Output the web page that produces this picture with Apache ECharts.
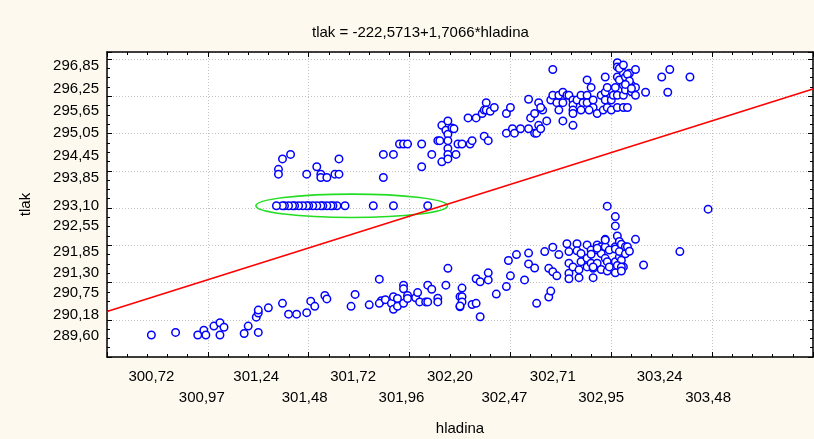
<!DOCTYPE html>
<html>
<head>
<meta charset="utf-8">
<script src="https://cdn.jsdelivr.net/npm/echarts@6/dist/echarts.min.js"></script>
<style>
  html, body { margin: 0; padding: 0; background: #fdf9ee; }
  #chart { width: 814px; height: 439px; }
</style>
</head>
<body>
<div id="chart"></div>
<script>
// Regression: tlak = intercept + slope * hladina
const intercept = -222.5713;
const slope = 1.7066;

// Tick labels shown on the axes
const yTickLabels = [289.60, 290.18, 290.75, 291.30, 291.85, 292.55, 293.10, 293.85, 294.45, 295.05, 295.65, 296.25, 296.85];
const xTickLabels = [300.72, 300.97, 301.24, 301.48, 301.72, 301.96, 302.20, 302.47, 302.71, 302.95, 303.24, 303.48];

// Measurements [hladina, tlak] - upper band
const upperGroup = [
  [301.37,294.36],[301.41,294.48],[301.35,294.08],[301.35,293.95],[301.49,293.95],[301.54,294.15],
  [301.56,293.95],[301.56,293.86],[301.59,293.86],[301.63,293.95],[301.65,293.95],[301.65,294.36],
  [301.87,294.48],[301.92,294.48],[301.87,293.86],[301.95,294.76],[301.97,294.76],[301.99,294.76],
  [302.06,294.76],[302.11,294.48],[302.06,294.15],[302.14,294.85],[302.16,294.28],
  [302.16,295.26],[302.19,295.38],[302.18,295.13],[302.19,295.02],[302.19,294.85],[302.19,294.64],
  [302.19,294.48],[302.19,294.36],[302.21,295.19],[302.22,295.17],[302.23,294.48],[302.24,294.76],[302.15,294.85],
  [302.26,294.76],[302.29,295.46],[302.30,294.76],[302.31,294.85],[302.33,295.46],[302.36,295.58],
  [302.37,295.67],[302.38,295.87],[302.38,295.67],[302.40,295.64],[302.42,295.74],[302.37,294.97],[302.39,294.85],
  [302.48,295.58],[302.50,295.74],[302.48,295.05],[302.51,295.17],[302.52,295.05],[302.55,295.17],
  [302.59,295.17],[302.59,295.96],[302.60,295.46],[302.62,295.58],[302.64,295.87],[302.66,295.67],
  [302.65,295.74],[302.64,295.26],[302.68,295.38],[302.62,295.05],[302.63,295.05],[302.65,295.17],
  [302.71,296.76],[302.70,295.94],[302.71,296.07],[302.73,295.87],[302.74,296.07],[302.74,295.67],
  [302.76,295.87],[302.76,296.15],[302.78,296.07],[302.76,295.38],[302.79,296.07],[302.81,295.94],
  [302.81,295.81],[302.81,295.67],[302.81,295.58],[302.81,295.26],[302.83,295.94],[302.85,296.07],
  [302.86,295.87],[302.85,295.67],
  [302.88,296.48],[302.88,296.07],[302.88,295.87],[302.90,296.28],[302.91,295.94],[302.91,295.74],
  [302.89,295.67],[302.93,295.58],[302.96,295.67],[302.95,296.07],[302.97,295.94],[302.97,296.15],
  [302.97,296.56],[302.98,295.74],[302.98,296.28],
  [303.00,295.94],[303.00,295.67],[303.01,296.07],[303.02,296.28],[303.03,296.94],[303.03,296.83],
  [303.03,296.56],[303.03,296.07],[303.03,295.74],[303.05,296.83],[303.06,296.66],[303.06,296.34],
  [303.06,296.07],[303.06,295.74],[303.04,296.48],[303.07,296.56],[303.07,296.21],[303.08,295.74],
  [303.09,296.66],[303.10,296.34],[303.10,296.16],[303.12,296.76],[303.12,296.28],[303.12,296.07],
  [303.17,296.15],[303.25,296.56],[303.29,296.76],[303.28,296.15],[303.39,296.56],
  [303.04,296.79],[303.06,296.88],[303.08,296.63],[303.09,296.45],[303.07,296.36],[303.10,296.25]
];

// Readings stuck at a constant tlak of 293,10
const flatRowLevel = 293.10;
const flatRowX = [301.34,301.37,301.38,301.40,301.42,301.43,301.45,301.47,301.49,301.50,301.52,
                  301.54,301.56,301.57,301.59,301.61,301.62,301.64,301.68,301.82,301.92,302.09];

// Measurements [hladina, tlak] - lower band
const lowerGroup = [
  [300.72,289.63],[300.84,289.70],[300.95,289.63],[300.98,289.76],[300.99,289.63],[301.03,289.87],
  [301.06,289.96],[301.06,289.63],[301.08,289.84],[301.18,289.67],[301.20,289.87],[301.25,289.70],
  [301.24,290.11],[301.25,290.22],[301.25,290.30],[301.30,290.36],[301.37,290.48],[301.40,290.19],
  [301.44,290.19],[301.49,290.23],[301.51,290.54],[301.53,290.40],[301.58,290.69],[301.59,290.60],
  [301.71,290.40],[301.73,290.72],[301.80,290.44],[301.85,291.13],[301.86,290.55],[301.85,290.48],
  [301.88,290.58],[301.91,290.48],[301.92,290.32],[301.92,290.66],[301.94,290.61],[301.94,290.40],
  [301.97,290.97],[301.97,290.87],[301.97,290.48],[301.99,290.69],[301.99,290.61],[302.03,290.63],
  [302.04,290.77],[302.05,290.52],[302.08,290.52],[302.09,290.52],[302.09,290.97],[302.11,290.86],
  [302.14,290.62],[302.14,290.52],[302.18,290.97],[302.19,291.42],[302.25,290.66],[302.25,290.39],
  [302.26,290.89],[302.26,290.66],[302.26,290.52],[302.25,290.41],[302.31,290.45],[302.33,290.48],
  [302.35,290.12],[302.33,291.14],[302.35,291.06],[302.39,291.11],[302.39,291.30],[302.43,290.73],
  [302.48,290.93],[302.49,291.63],[302.50,291.22],[302.53,291.79],[302.57,291.11],[302.59,291.54],
  [302.59,291.83],[302.62,291.43],[302.63,290.48],[302.67,291.87],[302.69,291.42],[302.69,290.65],
  [302.70,290.81],[302.71,291.99],[302.71,291.33],[302.73,291.22],[302.74,291.79],
  [302.78,292.08],[302.79,291.87],[302.79,291.56],[302.79,291.29],[302.79,291.14],[302.81,291.46],
  [302.83,292.08],[302.83,291.89],[302.84,291.38],[302.84,291.17],[302.85,291.82],[302.85,291.60],
  [302.88,292.05],[302.88,291.69],[302.88,291.46],[302.90,291.91],[302.90,291.56],[302.91,291.42],
  [302.91,291.17],[302.93,292.05],[302.93,291.91],[302.93,291.56],[302.95,292.00],[302.95,291.82],
  [302.95,291.39],[302.97,292.20],[302.97,292.00],[302.97,291.69],[302.98,291.60],[302.98,291.35],
  [302.99,291.91],[302.99,291.46],[303.02,292.00],[303.02,292.81],[303.02,292.56],[303.03,292.29],
  [303.02,291.94],[303.02,291.60],[303.02,291.30],[303.04,292.14],[303.04,291.73],[303.04,291.87],
  [303.05,292.07],[303.05,291.64],[303.05,291.39],[303.06,291.46],[303.07,291.81],[303.07,292.00],
  [303.08,292.00],[303.09,291.88],[303.12,292.20],[303.16,291.51],[303.34,291.87],[303.48,293.01],
  [302.98,293.09],[302.93,291.96],[302.97,292.18],[302.90,291.80],[302.91,291.46],[303.03,291.50],
  [303.05,291.46],[303.05,291.35]
];

// Ring around the constant-level readings (centre and half-axes in data units)
const ringCenter = [301.713, 293.10];
const ringHalfAxes = [0.475, 0.314];

const xMin = 300.5, xMax = 304.0;
const yMin = 289.04, yMax = 297.23;

const fmt = v => v.toFixed(2).replace('.', ',');
const FONT = '"Liberation Sans", Arial, sans-serif';

// the constant row is drawn right to left so the leftmost ring stays on top
const flatRowPoints = flatRowX.map(x => [x, flatRowLevel]).reverse();
const scatterData = upperGroup.concat(flatRowPoints, lowerGroup);
const fitLine = [[xMin, intercept + slope * xMin], [xMax, intercept + slope * xMax]];

const axisLineStyle = { color: '#000', width: 1.5 };
const dotted = { color: '#c4c4c4', width: 1, type: [1, 2] };

const chart = echarts.init(document.getElementById('chart'), null, { renderer: 'canvas' });
chart.setOption({
  animation: false,
  backgroundColor: '#fdf9ee',
  textStyle: { fontFamily: FONT },
  title: {
    text: 'tlak = -222,5713+1,7066*hladina',
    left: 307, top: 20,
    textStyle: { fontFamily: FONT, fontSize: 15, fontWeight: 'normal', color: '#000' }
  },
  grid: {
    left: 107, right: 1, top: 52, bottom: 82,
    containLabel: false, outerBoundsMode: 'none',
    show: true, backgroundColor: '#fff', borderWidth: 0
  },
  xAxis: [
    {
      type: 'value', position: 'bottom', min: xMin, max: xMax, interval: 0.5,
      name: 'hladina', nameLocation: 'middle', nameGap: 64,
      nameTextStyle: { fontFamily: FONT, fontSize: 15, color: '#000' },
      axisLine: { show: true, onZero: false, lineStyle: axisLineStyle },
      axisTick: { show: true, inside: true, length: 5, lineStyle: { color: '#000' } },
      minorTick: { show: true, splitNumber: 5, length: 3, lineStyle: { color: '#000' } },
      splitLine: { show: true, lineStyle: dotted },
      axisLabel: {
        customValues: xTickLabels,
        margin: 9, lineHeight: 21,
        fontFamily: FONT, fontSize: 15, color: '#000',
        formatter: v => {
          const i = xTickLabels.findIndex(t => Math.abs(t - v) < 1e-6);
          return (i % 2 ? '\n' : '') + fmt(v);
        }
      }
    },
    {
      type: 'value', position: 'top', min: xMin, max: xMax, interval: 0.5,
      axisLine: { show: true, onZero: false, lineStyle: axisLineStyle },
      axisTick: { show: true, inside: true, length: 5, lineStyle: { color: '#000' } },
      minorTick: { show: true, splitNumber: 5, length: 3, lineStyle: { color: '#000' } },
      splitLine: { show: false },
      axisLabel: { show: false }
    }
  ],
  yAxis: [
    {
      type: 'value', position: 'left', min: yMin, max: yMax, interval: 1,
      name: 'tlak', nameLocation: 'middle', nameGap: 74, nameRotate: 90,
      nameTextStyle: { fontFamily: FONT, fontSize: 15, color: '#000' },
      axisLine: { show: true, onZero: false, lineStyle: axisLineStyle },
      axisTick: { show: true, inside: true, length: 5, lineStyle: { color: '#000' } },
      minorTick: { show: true, splitNumber: 4, length: 3, lineStyle: { color: '#000' } },
      splitLine: { show: true, lineStyle: dotted },
      axisLabel: {
        customValues: yTickLabels,
        margin: 8, fontFamily: FONT, fontSize: 15, color: '#000',
        formatter: v => fmt(v)
      }
    },
    {
      type: 'value', position: 'right', min: yMin, max: yMax, interval: 1,
      axisLine: { show: true, onZero: false, lineStyle: axisLineStyle },
      axisTick: { show: true, inside: true, length: 5, lineStyle: { color: '#000' } },
      minorTick: { show: true, splitNumber: 4, length: 3, lineStyle: { color: '#000' } },
      splitLine: { show: false },
      axisLabel: { show: false }
    }
  ],
  series: [
    {
      type: 'scatter',
      data: scatterData,
      symbol: 'circle',
      symbolSize: 7.5,
      itemStyle: { color: '#ffffff', borderColor: '#0000ff', borderWidth: 1.5, opacity: 1 },
      emphasis: { disabled: true }
    },
    {
      type: 'line',
      data: fitLine,
      showSymbol: false,
      lineStyle: { color: '#ff0000', width: 1.6 },
      emphasis: { disabled: true }
    },
    {
      type: 'custom',
      data: [ringCenter],
      renderItem: (params, api) => {
        const c = api.coord(ringCenter);
        const s = api.size(ringHalfAxes);
        return {
          type: 'ellipse',
          shape: { cx: c[0], cy: c[1], rx: s[0], ry: s[1] },
          style: { fill: 'none', stroke: '#22dd22', lineWidth: 1.6 }
        };
      }
    }
  ]
});
</script>
</body>
</html>
